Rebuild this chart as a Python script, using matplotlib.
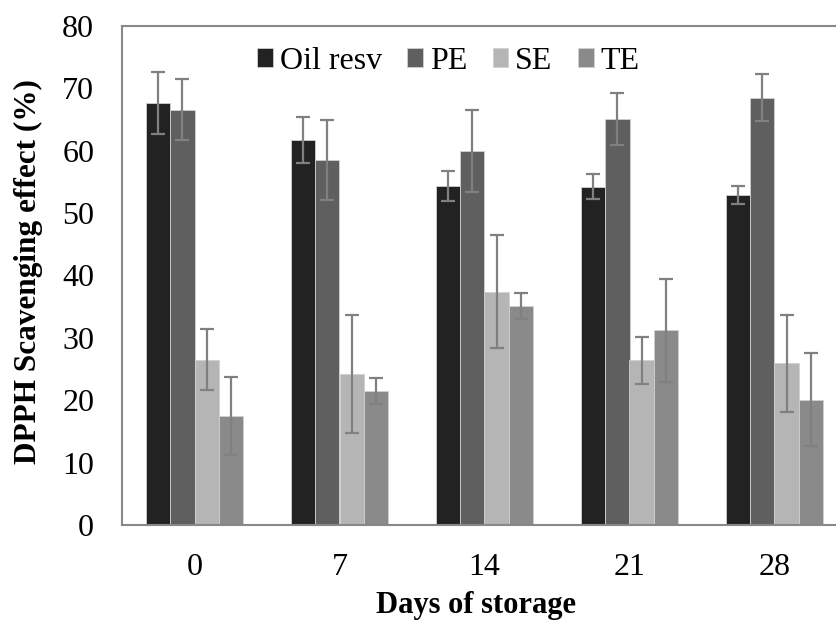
import matplotlib
matplotlib.use("Agg")
import matplotlib.pyplot as plt
import numpy as np

plt.rcParams['font.family'] = ['Liberation Serif', 'DejaVu Serif']

days = ["0", "7", "14", "21", "28"]
series = ["Oil resv", "PE", "SE", "TE"]
oil = [67.7, 61.7, 54.4, 54.2, 52.9]
oil_err = [5.0, 3.7, 2.4, 2.0, 1.5]
pe = [66.6, 58.5, 60.0, 65.1, 68.5]
pe_err = [4.9, 6.4, 6.6, 4.1, 3.8]
se = [26.5, 24.2, 37.4, 26.4, 25.9]
se_err = [4.9, 9.5, 9.1, 3.8, 7.8]
te = [17.5, 21.5, 35.1, 31.2, 20.1]
te_err = [6.2, 2.1, 2.1, 8.3, 7.4]

colors = ["#222222", "#5f5f5f", "#b5b5b5", "#8a8a8a"]
values = [oil, pe, se, te]
errors = [oil_err, pe_err, se_err, te_err]

fig = plt.figure(figsize=(8.36, 6.22), dpi=100)
ax = fig.add_axes([122/836, 97/622, 725/836, 499/622])

x = np.arange(len(days))
w = 0.1667
for i, (vals, errs, c, name) in enumerate(zip(values, errors, colors, series)):
    ax.bar(x + (i - 1.5) * w, vals, w, color=c, edgecolor="#d0d0d0", linewidth=0.6,
           label=name, yerr=errs,
           error_kw=dict(ecolor="#808080", elinewidth=1.6, capsize=5, capthick=1.6))

ax.set_xlim(-0.5, 4.5)
ax.set_ylim(0, 80)
ax.set_yticks(range(0, 81, 10))
ax.set_xticks(x)
ax.set_xticklabels(days)
ax.tick_params(axis='both', length=0, labelsize=23)
ax.tick_params(axis='x', pad=20)
ax.tick_params(axis='y', pad=20)
for s in ax.spines.values():
    s.set_color("#888888")
    s.set_linewidth(1.5)

ax.set_ylabel("DPPH Scavenging effect (%)", fontsize=22.5, fontweight='bold')
ax.yaxis.set_label_coords(-0.109, 0.508)
ax.set_xlabel("Days of storage", fontsize=22, fontweight='bold')
ax.xaxis.set_label_coords(0.488, -0.133)

leg = ax.legend(loc='upper center', bbox_to_anchor=(0.45, 1.0), ncol=4, frameon=False,
                fontsize=23, handlelength=0.5, handleheight=0.5, handletextpad=0.2,
                columnspacing=0.8, borderaxespad=0.25)

fig.savefig("out.png", dpi=100)
